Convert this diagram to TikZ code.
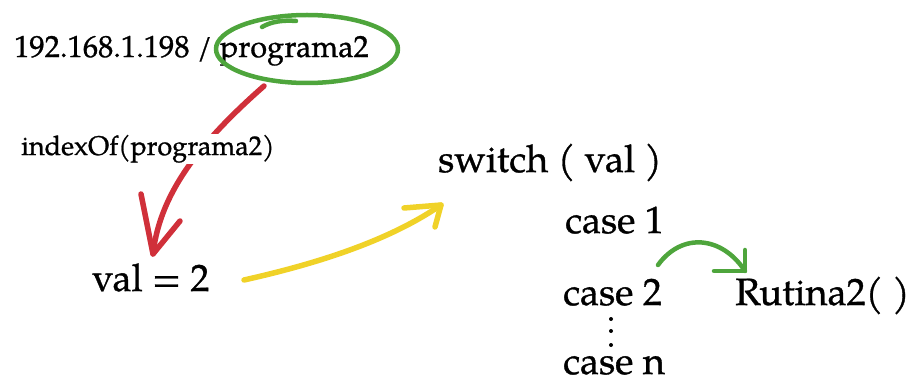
\documentclass[tikz,border=0pt]{standalone}
\usepackage{fontspec}
\setmainfont{TeX Gyre Pagella}[FakeBold=0.9]
\definecolor{penGreen}{RGB}{78,165,60}
\definecolor{penRed}{RGB}{208,48,58}
\definecolor{penYellow}{RGB}{240,210,40}
\tikzset{
  lbl/.style={anchor=base west, inner sep=0pt, text=black},
  big/.style={lbl, font=\fontsize{38}{40}\selectfont},
  small/.style={lbl, font=\fontsize{30.5}{32}\selectfont},
  tiny/.style={lbl, font=\fontsize{27}{29}\selectfont},
  pen/.style={line width=5.5pt, line cap=round, line join=round},
}
\begin{document}
\begin{tikzpicture}[x=1pt, y=-1pt]
\useasboundingbox (0,0) rectangle (908,382);

% request line and the circled program name
\node[small] (url) at (14,57) {192.168.1.198 /\hspace{8pt}programa2};
\draw[pen, penGreen, line width=4.5pt] (307,49) ellipse [x radius=91, y radius=34];
\draw[pen, penGreen, line width=4.5pt] (262,27) .. controls (272,21) and (285,20) .. (296,21);

% lookup arrow
\coordinate (rs) at (264,86);
\coordinate (rt) at (153,254);
\draw[pen, penRed] (rs) .. controls (205,138) and (160,190) .. (rt);
\draw[pen, penRed] (141,194) -- (rt) -- (180,221);
\node[tiny, fill=white, inner sep=1pt] (idx) at (20,155) {indexOf(programa2)};

% value and switch
\node[big] (val) at (92,291) {val = 2};
\node[big] (sw) at (438,172) {switch ( val )};
\coordinate (ys) at (244,280);
\coordinate (yt) at (441,205);
\draw[pen, penYellow] (ys) .. controls (320,263) and (390,240) .. (yt);
\draw[pen, penYellow] (404,208) -- (yt) -- (435,227);

% cases
\node[big] (c1) at (565,233) {case 1};
\node[big] (c2) at (563,305) {case 2};
\node[big] (cn) at (563,374) {case n};
\node[big] (r2) at (735,305) {Rutina2( )};
\foreach \yy in {319,331,345} \fill (611,\yy) circle (2pt);

% jump to the routine
\coordinate (gs) at (658,265);
\coordinate (gt) at (745,271);
\draw[pen, penGreen, line width=4.5pt] (gs) .. controls (682,232) and (722,236) .. (gt);
\draw[pen, penGreen, line width=4.5pt] (745,250) -- (gt) -- (714,271);
\end{tikzpicture}
\end{document}
